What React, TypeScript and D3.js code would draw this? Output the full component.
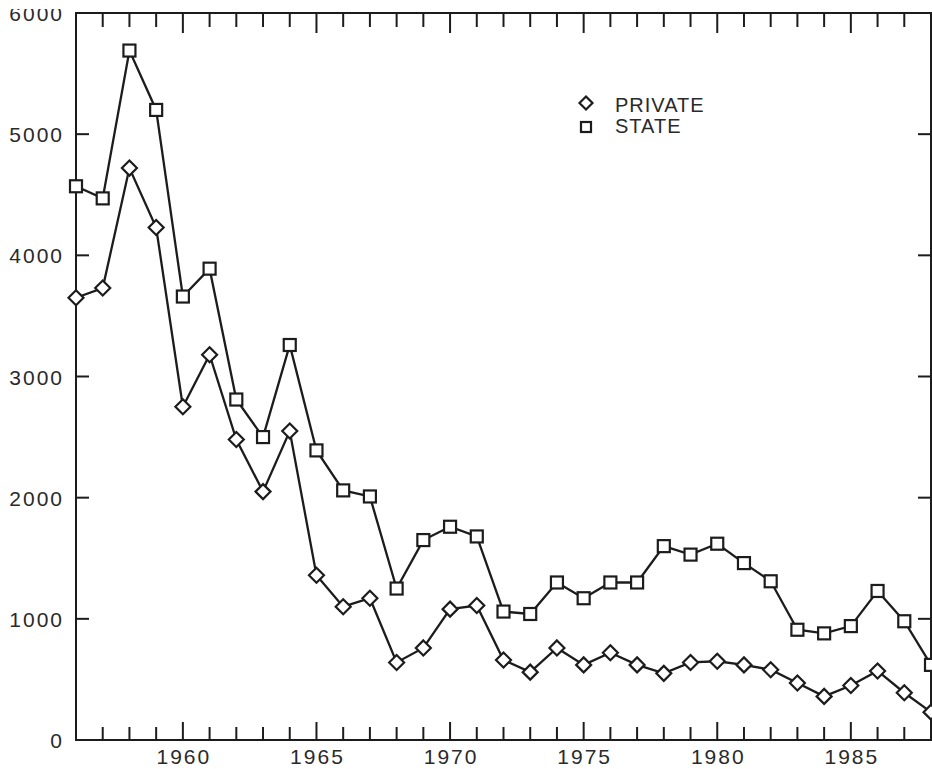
import React from 'react';
import * as d3 from 'd3';

const years = d3.range(1956, 1989);
const privateValues = [
  3650, 3730, 4720, 4230, 2750, 3180, 2480, 2050, 2550, 1360, 1100,
  1170, 640, 760, 1080, 1110, 660, 560, 760, 620, 720, 620,
  550, 640, 650, 620, 580, 470, 360, 450, 570, 390, 230,
];
const stateValues = [
  4570, 4470, 5690, 5200, 3660, 3890, 2810, 2500, 3260, 2390, 2060,
  2010, 1250, 1650, 1760, 1680, 1060, 1040, 1300, 1170, 1300, 1300,
  1600, 1530, 1620, 1460, 1310, 910, 880, 940, 1230, 980, 620,
];
const yTicks = [0, 1000, 2000, 3000, 4000, 5000, 6000];
const xTickLabels = [1960, 1965, 1970, 1975, 1980, 1985];
const legendLabels = ['PRIVATE', 'STATE'];

const W = 932;
const H = 769;
const left = 76;
const right = 931;
const top = 13;
const bottom = 740;
const ink = '#1c1c1c';
const font = '"Liberation Sans", Arial, sans-serif';

const Diamond = ({ x, y, r }: { x: number; y: number; r: number }) => (
  <path
    d={`M${x},${y - r}L${x + r},${y}L${x},${y + r}L${x - r},${y}Z`}
    fill="white"
    stroke={ink}
    strokeWidth={2.2}
  />
);

const Square = ({ x, y, s }: { x: number; y: number; s: number }) => (
  <rect x={x - s / 2} y={y - s / 2} width={s} height={s} fill="white" stroke={ink} strokeWidth={2.2} />
);

const App = () => {
  const x = d3.scaleLinear().domain([1956, 1988]).range([left, right]);
  const y = d3.scaleLinear().domain([0, 6000]).range([bottom, top]);

  const line = d3
    .line<number>()
    .x((_, i) => x(years[i]))
    .y((d) => y(d));

  return (
    <div style={{ position: 'absolute', left: 0, top: 0 }}>
      <svg width={W} height={H} style={{ display: 'block', background: 'white' }}>
        <defs>
          {/* the scan cuts the top label in half */}
          <clipPath id="labelclip">
            <rect x={0} y={9} width={W} height={H} />
          </clipPath>
        </defs>

        {/* frame */}
        <rect x={left} y={top} width={right - left} height={bottom - top} fill="none" stroke={ink} strokeWidth={2} />

        {/* year ticks, bottom and top, pointing inward */}
        {years.map((yr) => {
          const major = yr % 5 === 0;
          return (
            <g key={yr} stroke={ink} strokeWidth={2}>
              <line x1={x(yr)} x2={x(yr)} y1={bottom} y2={bottom - (major ? 18 : 13)} />
              <line x1={x(yr)} x2={x(yr)} y1={top} y2={top + (major ? 20 : 14)} />
            </g>
          );
        })}

        {/* value ticks */}
        {yTicks.map((v) => (
          <g key={v} stroke={ink} strokeWidth={2}>
            <line x1={left} x2={left + 13} y1={y(v)} y2={y(v)} />
            <line x1={right} x2={right - 13} y1={y(v)} y2={y(v)} />
          </g>
        ))}

        <g clipPath="url(#labelclip)" fontFamily={font} fontSize={21} fill="#2a2a2a" letterSpacing={2}>
          {yTicks.map((v) => (
            <text key={v} x={64} y={y(v) + 8} textAnchor="end">
              {v}
            </text>
          ))}
          {xTickLabels.map((yr) => (
            <text key={yr} x={x(yr) + 1} y={764} textAnchor="middle">
              {yr}
            </text>
          ))}
        </g>

        {/* series */}
        <path d={line(stateValues) ?? ''} fill="none" stroke={ink} strokeWidth={2.3} />
        <path d={line(privateValues) ?? ''} fill="none" stroke={ink} strokeWidth={2.3} />
        {stateValues.map((v, i) => (
          <Square key={'s' + i} x={x(years[i])} y={y(v)} s={12} />
        ))}
        {privateValues.map((v, i) => (
          <Diamond key={'p' + i} x={x(years[i])} y={y(v)} r={7.5} />
        ))}

        {/* legend */}
        <Diamond x={586} y={103} r={6.5} />
        <Square x={586} y={127} s={10} />
        <g fontFamily={font} fontSize={20} fill="#2a2a2a" letterSpacing={1}>
          {legendLabels.map((l, i) => (
            <text key={l} x={615} y={112 + i * 21}>
              {l}
            </text>
          ))}
        </g>
      </svg>
    </div>
  );
};

export default App;
